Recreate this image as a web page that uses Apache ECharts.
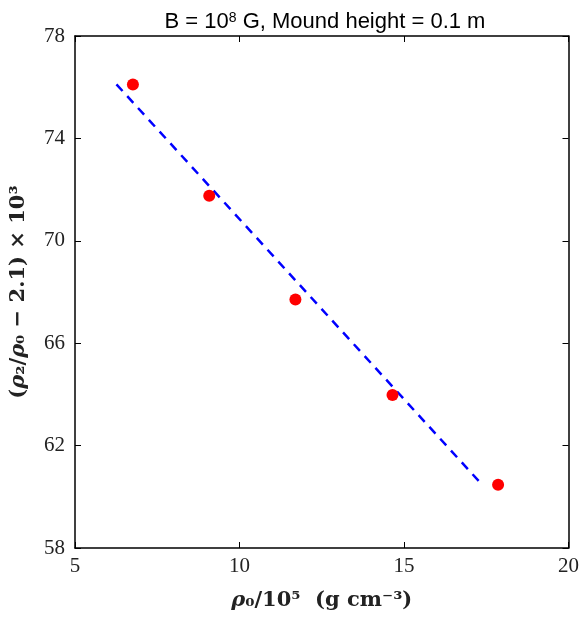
<!DOCTYPE html>
<html><head><meta charset="utf-8">
<script src="https://cdn.jsdelivr.net/npm/echarts@6/dist/echarts.min.js"></script>
<style>html,body{margin:0;padding:0;background:#fff}#c{width:582px;height:617px}</style>
</head><body><div id="c"></div>
<script>
const xData = [6.76, 9.08, 11.70, 14.65, 17.86];
const yData = [76.11, 71.76, 67.71, 63.98, 60.47];
const fitX = [6.26, 17.32];
const fitY = [76.11, 60.55];
const xTicks = [5, 10, 15, 20];
const yTicks = [58, 62, 66, 70, 74, 78];

const chart = echarts.init(document.getElementById('c'), null, {renderer: 'canvas'});
const serif = '"Liberation Serif", "DejaVu Serif", serif';
const bserif = '"DejaVu Serif", serif';
const axisLine = {show: true, lineStyle: {color: '#000', width: 1.5}};
const tick = {show: true, inside: true, length: 6, lineStyle: {color: '#000', width: 1}};
const nameRich = {i: {fontFamily: bserif, fontSize: 21, fontWeight: 'bold', fontStyle: 'italic', color: '#222'}};
chart.setOption({
  animation: false,
  backgroundColor: '#fff',
  title: {
    text: 'B = 10{s|8} G, Mound height = 0.1 m',
    left: 320, top: 6, textAlign: 'center',
    textStyle: {fontFamily: '"Liberation Sans", Arial, sans-serif', fontSize: 22, fontWeight: 'normal', color: '#000',
      rich: {s: {fontSize: 14, verticalAlign: 'top', fontFamily: '"Liberation Sans", Arial, sans-serif', color: '#000'}}}
  },
  grid: {left: 75, right: 11, top: 36, bottom: 69},
  xAxis: [{
    type: 'value', min: 5, max: 20, interval: 5,
    axisLine, axisTick: tick, splitLine: {show: false},
    axisLabel: {fontFamily: serif, fontSize: 21, color: '#222', margin: 8},
    name: '{i|ρ}₀/10⁵  (g cm⁻³)', nameLocation: 'middle', nameGap: 42,
    nameTextStyle: {fontFamily: bserif, fontSize: 21, fontWeight: 'bold', color: '#222', rich: nameRich}
  }, {
    type: 'value', position: 'top', min: 5, max: 20, interval: 5,
    axisLine, axisTick: tick, splitLine: {show: false}, axisLabel: {show: false}
  }],
  yAxis: [{
    type: 'value', min: 58, max: 78, interval: 4,
    axisLine, axisTick: tick, splitLine: {show: false},
    axisLabel: {fontFamily: serif, fontSize: 21, color: '#222', margin: 10},
    name: '({i|ρ}₂/{i|ρ}₀ − 2.1) × 10³', nameLocation: 'middle', nameGap: 46,
    nameTextStyle: {fontFamily: bserif, fontSize: 21, fontWeight: 'bold', color: '#222', rich: nameRich}
  }, {
    type: 'value', position: 'right', min: 58, max: 78, interval: 4,
    axisLine, axisTick: tick, splitLine: {show: false}, axisLabel: {show: false}
  }],
  series: [{
    type: 'line', data: fitX.map((x, i) => [x, fitY[i]]),
    showSymbol: false, symbol: 'none',
    lineStyle: {color: '#0000ff', width: 2.5, type: [9, 7]}, z: 2
  }, {
    type: 'scatter', data: xData.map((x, i) => [x, yData[i]]),
    symbol: 'circle', symbolSize: 12,
    itemStyle: {color: '#ff0000', opacity: 1}, z: 3
  }]
});
</script></body></html>
